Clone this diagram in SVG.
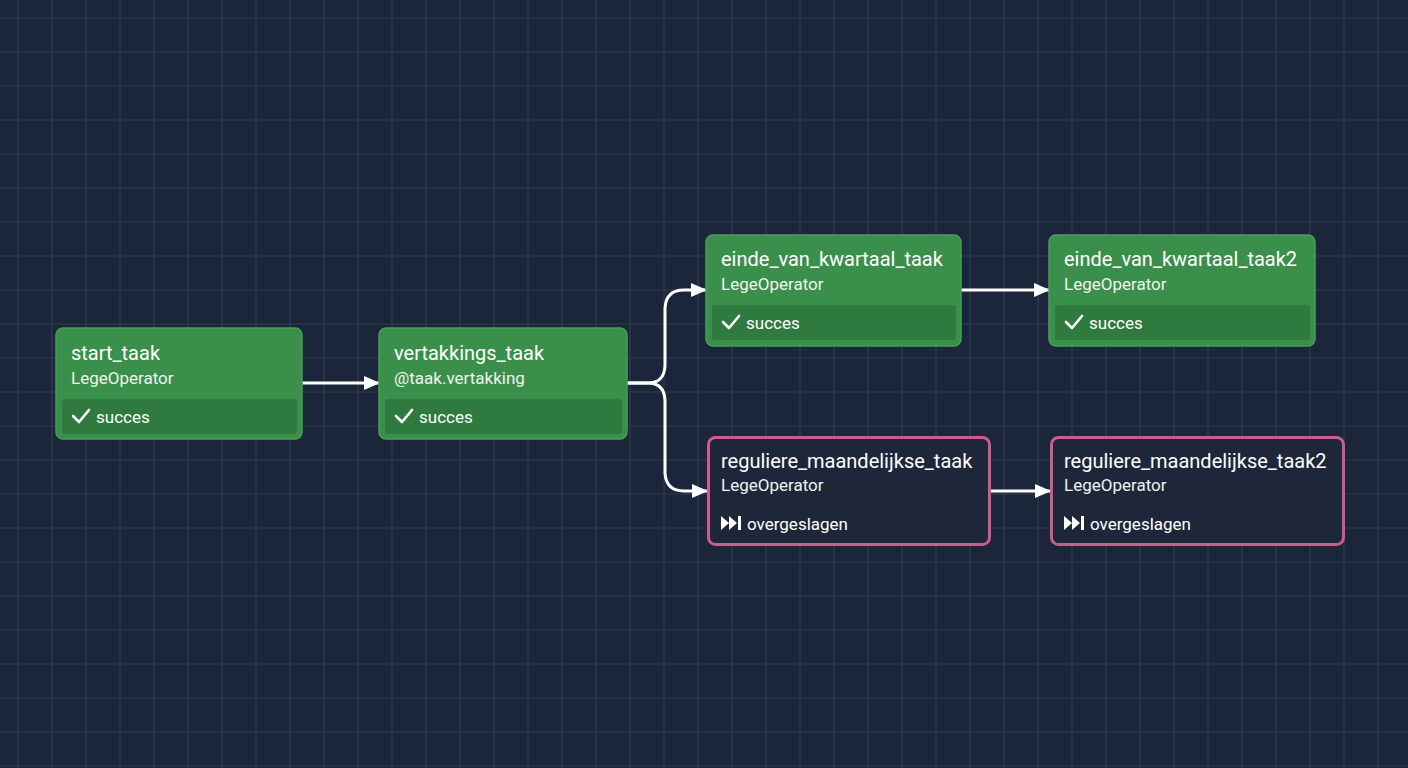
<svg xmlns="http://www.w3.org/2000/svg" width="1408" height="768" viewBox="0 0 1408 768">
<defs>
<pattern id="grid" x="0" y="0" width="34" height="34" patternUnits="userSpaceOnUse">
<path d="M18 0 V34 M0 18 H34" stroke="#2d3b53" stroke-width="1.2" fill="none"/>
</pattern>
<marker id="arr" markerWidth="16" markerHeight="14" refX="15" refY="7" orient="auto" markerUnits="userSpaceOnUse">
<path d="M0,0 L16,7 L0,14 Z" fill="#ffffff"/>
</marker>
<style>
.ok{fill:#3a8f4b;stroke:#45a057;stroke-width:1.5}
.okbar{fill:#2f7a3e}
.skip{fill:#1e2639;stroke:#cc5d88;stroke-width:3}
.t{font-family:Roboto,"Liberation Sans",sans-serif;fill:#ffffff}
.title{font-size:20px}
.sub{font-size:17px;fill:#eef4ee}
.st{font-size:17px}
.edge{stroke:#ffffff;stroke-width:3;fill:none;marker-end:url(#arr)}
.chk{stroke:#ffffff;stroke-width:2.6;fill:none;stroke-linecap:round;stroke-linejoin:round}
</style>
</defs>
<rect width="1408" height="768" fill="#1c263a"/>
<rect width="1408" height="768" fill="url(#grid)"/>

<g id="connectors">
<path class="edge" d="M302,383 H379"/>
<path class="edge" d="M627,383 H648 Q664,383 665,366 V308 Q666,290 684,290 H706"/>
<path class="edge" d="M627,383 H648 Q664,383 665,400 V473 Q666,491 684,491 H707"/>
<path class="edge" d="M961,290 H1049"/>
<path class="edge" d="M991,491 H1050"/>
</g>

<g id="start_taak">
<rect class="ok" x="56" y="328" width="246" height="111" rx="7"/>
<rect class="okbar" x="62" y="399" width="235" height="35" rx="3"/>
<text class="t title" x="71" y="360">start_taak</text>
<text class="t sub" x="71" y="384">LegeOperator</text>
<path class="chk" d="M73,416 L79,422 L89,410"/>
<text class="t st" x="96" y="423">succes</text>
</g>

<g id="vertakkings_taak">
<rect class="ok" x="379" y="328" width="248" height="111" rx="7"/>
<rect class="okbar" x="385" y="399" width="237" height="35" rx="3"/>
<text class="t title" x="394" y="360">vertakkings_taak</text>
<text class="t sub" x="394" y="384">@taak.vertakking</text>
<path class="chk" d="M396,416 L402,422 L412,410"/>
<text class="t st" x="419" y="423">succes</text>
</g>

<g id="einde_van_kwartaal_taak">
<rect class="ok" x="706" y="235" width="255" height="111" rx="7"/>
<rect class="okbar" x="712" y="305" width="244" height="35" rx="3"/>
<text class="t title" x="721" y="266">einde_van_kwartaal_taak</text>
<text class="t sub" x="721" y="290">LegeOperator</text>
<path class="chk" d="M723,322 L729,328 L739,316"/>
<text class="t st" x="746" y="329">succes</text>
</g>

<g id="einde_van_kwartaal_taak2">
<rect class="ok" x="1049" y="235" width="266" height="111" rx="7"/>
<rect class="okbar" x="1055" y="305" width="255" height="35" rx="3"/>
<text class="t title" x="1064" y="266">einde_van_kwartaal_taak2</text>
<text class="t sub" x="1064" y="290">LegeOperator</text>
<path class="chk" d="M1066,322 L1072,328 L1082,316"/>
<text class="t st" x="1089" y="329">succes</text>
</g>

<g id="reguliere_maandelijkse_taak">
<rect class="skip" x="708.5" y="437.5" width="281" height="107" rx="7"/>
<text class="t title" x="721" y="468">reguliere_maandelijkse_taak</text>
<text class="t sub" x="721" y="491">LegeOperator</text>
<path d="M721,516 L729,523 L721,530 Z M729,516 L737,523 L729,530 Z" fill="#ffffff"/>
<rect x="738" y="516" width="3" height="14" fill="#ffffff"/>
<text class="t st" x="747" y="530">overgeslagen</text>
</g>

<g id="reguliere_maandelijkse_taak2">
<rect class="skip" x="1051.5" y="437.5" width="292" height="107" rx="7"/>
<text class="t title" x="1064" y="468">reguliere_maandelijkse_taak2</text>
<text class="t sub" x="1064" y="491">LegeOperator</text>
<path d="M1064,516 L1072,523 L1064,530 Z M1072,516 L1080,523 L1072,530 Z" fill="#ffffff"/>
<rect x="1081" y="516" width="3" height="14" fill="#ffffff"/>
<text class="t st" x="1090" y="530">overgeslagen</text>
</g>
</svg>
